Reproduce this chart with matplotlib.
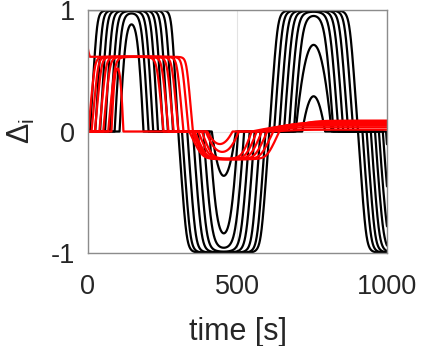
import numpy as np
import matplotlib
matplotlib.use("Agg")
from matplotlib import pyplot as plt

# zero crossings (start, end) and edge gain of every pulse
# black curves, k = 0 (outer) ... 7 (inner)
b1_start = [-303, 8.5, 26, 42, 58.5, 75, 90.5, 107]
b1_end = [303, 285.5, 268, 252, 235.5, 219, 203.5, 187]
b1_gain = [6.5, 3.0, 2.65, 2.32, 1.98, 1.64, 1.32, 0.98]

b2_start = [303, 315.5, 333, 352, 369, 387, 407, 415]
b2_end = [607, 594.5, 577, 558, 541, 523, 503, 495]
b2_gain = [2.74, 2.51, 2.2, 1.85, 1.55, 1.22, 0.90, 0.365]

b3_start = [607, 623, 640, 656, 672.5, 689, 695, 717]
b3_end = [903, 887, 870, 854, 837.5, 821, 815, 793]
b3_gain = [2.66, 2.38, 2.07, 1.78, 1.49, 1.19, 0.73, 0.29]

b4_start = [903, 918, 932, 946, 960, 973, 986, 997]
b4_end = [1207, 1192, 1178, 1164, 1150, 1137, 1124, 1113]
b4_gain = [2.74, 2.47, 2.21, 1.96, 1.71, 1.48, 1.24, 1.04]

# red curves
r1_level = 0.615
r1_start = [-352, 2.5, 13.5, 24.5, 39.5, 52.5, 69, 80]
r1_end = [352, 337.5, 320.5, 303.5, 287.5, 270.5, 254, 120]
r1_gain = [7.9, 3.77, 3.45, 3.14, 2.79, 2.45, 2.08, 0.91]

r2_level = -0.23
r2_start = [352, 340, 348, 358, 370, 382, 395, 400]
r2_end = [640, 620, 600, 582, 565, 548, 505, 484]
r2_gain = [1.8, 1.7, 1.6, 1.5, 1.4, 1.3, 0.75, 0.45]

r3_level = [0.09, 0.08, 0.075, 0.07, 0.06, 0.05, 0.035, 0.015]
r3_start = [640, 620, 600, 582, 565, 548, 580, 610]
r3_end = [1440, 1420, 1400, 1382, 1365, 1348, 1380, 1410]
r3_gain = [2.0, 2.0, 2.0, 2.0, 2.0, 2.0, 2.0, 2.0]

# first red curve starts with a short overshoot
r0_head_t = [0, 0, 3, 6]
r0_head_v = [0, 0.70, 0.66, 0.63]

x_ticks = [0, 500, 1000]
y_ticks = [-1, 0, 1]

t = np.arange(0, 1000.5, 0.5)


def softclip(u, n=6):
    return u / (1 + u ** n) ** (1.0 / n)


def pulse(s, e, gain, level):
    c = (s + e) / 2.0
    h = (e - s) / 2.0
    x = (t - c) / h
    u = np.clip(gain * (1 - x ** 2), 0, None)
    return level * softclip(u)


black = []
for k in range(8):
    y = (pulse(b1_start[k], b1_end[k], b1_gain[k], 1)
         + pulse(b2_start[k], b2_end[k], b2_gain[k], -1)
         + pulse(b3_start[k], b3_end[k], b3_gain[k], 1)
         + pulse(b4_start[k], b4_end[k], b4_gain[k], -1))
    y[0] = 0
    black.append(y)

red = []
for k in range(8):
    y = (pulse(r1_start[k], r1_end[k], r1_gain[k], r1_level)
         + pulse(r2_start[k], r2_end[k], r2_gain[k], r2_level)
         + pulse(r3_start[k], r3_end[k], r3_gain[k], r3_level[k]))
    y[0] = 0
    red.append(y)

plt.rcParams['font.family'] = ['Liberation Sans', 'DejaVu Sans']
plt.rcParams['mathtext.fontset'] = 'custom'
plt.rcParams['mathtext.rm'] = 'Liberation Sans'
plt.rcParams['mathtext.it'] = 'Liberation Sans'
plt.rcParams['mathtext.default'] = 'regular'
plt.rcParams['axes.unicode_minus'] = False

fig = plt.figure(figsize=(4.23, 3.46), dpi=100)
ax = fig.add_axes([87.5 / 423, 93 / 346, 299.5 / 423, 243 / 346])

for y in black:
    ax.plot(t, y, color='k', lw=1.6, solid_capstyle='round')
for k, y in enumerate(red):
    if k == 0:
        m = t >= 8
        tt = np.concatenate([r0_head_t, t[m]])
        yy = np.concatenate([r0_head_v, y[m]])
        ax.plot(tt, yy, color='r', lw=1.6)
    else:
        ax.plot(t, y, color='r', lw=1.6)

ax.set_xlim(0, 1000)
ax.set_ylim(-1, 1)
ax.set_xticks(x_ticks)
ax.set_yticks(y_ticks)
ax.grid(True, color='#e3e3e3', lw=0.8)
ax.set_axisbelow(True)
for sp in ax.spines.values():
    sp.set_color('#8c8c8c')
    sp.set_linewidth(1.0)
ax.tick_params(axis='both', length=0, labelsize=19.5, labelcolor='#262626')
ax.tick_params(axis='x', pad=15)
ax.tick_params(axis='y', pad=9)

fig.text(237.5 / 423, 1 - 340 / 346, 'time [s]', ha='center', va='baseline',
         fontsize=22, color='#262626')
fig.text(21 / 423, 1 - 131 / 346, r'$\Delta_i$', ha='center', va='center',
         rotation=90, fontsize=22, color='#262626')

fig.savefig('out.png', dpi=100)
